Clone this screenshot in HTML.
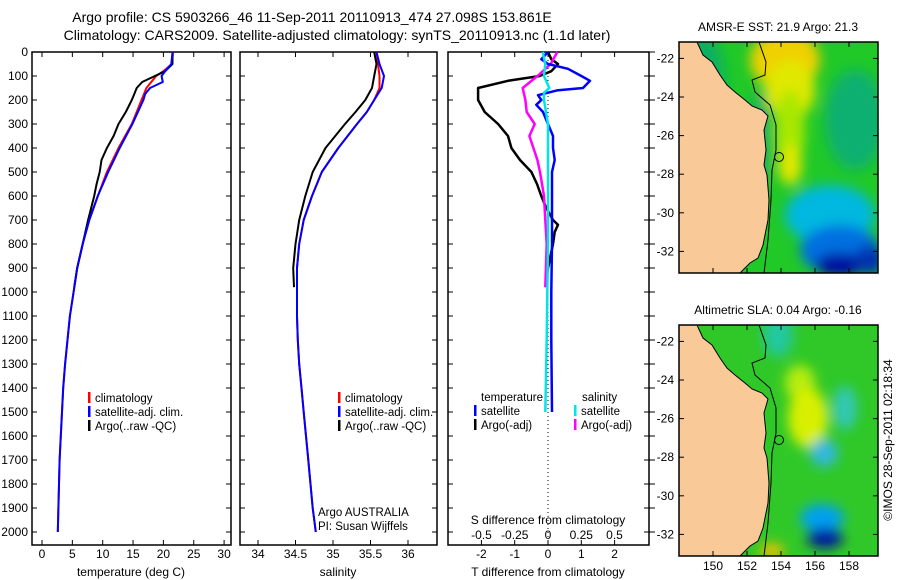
<!DOCTYPE html>
<html><head><meta charset="utf-8"><style>
html,body{margin:0;padding:0;background:#fff}
svg{display:block}
text{font-family:"Liberation Sans",Arial,sans-serif;font-size:12px;fill:#000}
.ttl{font-size:14px}
.leg{font-size:11.5px}
</style></head><body>
<svg id="fig" width="900" height="580" viewBox="0 0 900 580">
<text class="ttl" x="312" y="22" text-anchor="middle">Argo profile: CS 5903266_46 11-Sep-2011 20110913_474 27.098S 153.861E</text>
<text class="ttl" x="337" y="40" text-anchor="middle">Climatology: CARS2009. Satellite-adjusted climatology: synTS_20110913.nc (1.1d later)</text>
<g id="p1"></g>
<g id="p2"></g>
<g id="p3"></g>
<g id="maps"></g>
<text transform="translate(892,440) rotate(-90)" text-anchor="middle">©IMOS 28-Sep-2011 02:18:34</text>
</svg>
<script>
// ---- data ----
const depthTicks=[0,100,200,300,400,500,600,700,800,900,1000,1100,1200,1300,1400,1500,1600,1700,1800,1900,2000];
const tempTicks=[0,5,10,15,20,25,30];
const salTicks=[34,34.5,35,35.5,36];
const tdTicks=[-2,-1,0,1,2];
const sdTicks=[-0.5,-0.25,0,0.25,0.5];
const sdTickLabels=["-0.5","-0.25","0","0.25","0.5"];

const tDepth=[0,50,80,100,125,150,175,200,250,300,400,500,600,700,800,900,1000,1100,1200,1300,1400,1500,1600,1700,1800,1900,2000];
const tClim=[21.6,21.4,20.0,18.8,18.0,17.2,16.8,16.4,15.6,14.8,12.6,10.7,9.2,7.8,6.7,5.8,5.2,4.6,4.2,3.8,3.5,3.3,3.1,2.9,2.8,2.7,2.6];
const tSat=[21.5,21.3,20.3,19.7,19.9,17.8,17.0,16.7,15.8,14.9,12.8,10.9,9.2,7.8,6.7,5.8,5.2,4.6,4.2,3.8,3.5,3.3,3.1,2.9,2.8,2.7,2.6];
const argoDepth=[0,50,80,100,125,150,175,200,250,300,350,400,450,500,550,600,700,800,900,980];
const tArgo=[21.5,21.5,20.3,18.6,16.5,15.6,15.2,14.8,13.8,12.6,11.8,10.7,9.8,9.5,9.0,8.6,7.6,6.7,5.8,5.3];

const sDepth=[0,50,100,150,200,250,300,400,500,600,700,800,900,1000,1100,1200,1300,1400,1500,1600,1700,1800,1900,2000];
const sClim=[35.58,35.6,35.62,35.62,35.55,35.45,35.32,35.07,34.85,34.72,34.61,34.55,34.52,34.52,34.52,34.53,34.55,34.58,34.61,34.64,34.67,34.7,34.73,34.77];
const sSat=[35.58,35.62,35.68,35.65,35.55,35.45,35.32,35.07,34.85,34.72,34.61,34.55,34.52,34.52,34.52,34.53,34.55,34.58,34.61,34.64,34.67,34.7,34.73,34.77];
const sArgoDepth=[0,50,100,150,200,250,300,400,500,600,700,800,900,980];
const sArgo=[35.55,35.58,35.55,35.52,35.43,35.3,35.16,34.9,34.73,34.63,34.55,34.5,34.47,34.48];

const dtArgoDepth=[0,30,50,80,100,120,150,200,250,300,350,400,450,500,550,600,650,700,720,750,800,900,950,980];
const dtArgo=[0,0.1,0.3,0.1,-0.25,-1.2,-2.1,-2.1,-1.9,-1.5,-1.2,-1.1,-0.84,-0.5,-0.33,-0.2,-0.05,0.15,0.3,0.2,0.15,0,-0.05,-0.05];
const dtSatDepth=[0,30,50,70,100,120,150,160,180,200,220,250,300,350,400,450,500,600,700,800,1000,1200,1500];
const dtSat=[0,-0.2,0,0.6,1.0,1.26,1.05,0.27,-0.3,-0.2,-0.35,-0.15,0,0.15,0.15,0.2,0.12,0.12,0.12,0.12,0.1,0.1,0.12];
const dsArgoDepth=[0,50,100,150,200,250,300,350,400,450,500,600,700,800,980];
const dsArgo=[0.07,0.02,-0.08,-0.19,-0.17,-0.16,-0.1,-0.14,-0.11,-0.08,-0.06,-0.03,-0.02,-0.01,-0.02];
const dsSatDepth=[0,50,100,150,170,200,300,500,800,1000,1200,1500];
const dsSat=[-0.04,-0.02,-0.03,0.01,-0.03,-0.03,0,0,0,-0.005,-0.01,-0.02];

const latTicks=[-22,-24,-26,-28,-30,-32];
const lonTicks=[150,152,154,156,158];

// ---- helpers ----
const NS="http://www.w3.org/2000/svg";
function mk(tag,attrs,parent,txt){const e=document.createElementNS(NS,tag);for(const k in attrs)e.setAttribute(k,attrs[k]);if(txt!==undefined)e.textContent=txt;parent.appendChild(e);return e;}
const Y0=52,Y1=545;
const yD=d=>Y0+d*0.24;
const xT=t=>42+t*6.07;
const xS=s=>258+(s-34)*75;
const xDT=d=>548+d*33.3;
const xDS=s=>548+s*133;

function frame(g,x0,x1,name){
  const r=mk('rect',{x:x0,y:Y0,width:x1-x0,height:Y1-Y0,fill:'none',stroke:'#000','stroke-width':1.5},g);
  
  
  depthTicks.forEach(d=>{
    const t1=mk('line',{x1:x0,x2:x0+5,y1:yD(d),y2:yD(d),stroke:'#000'},g);
    
    
    const t2=mk('line',{x1:x1,x2:x1-5,y1:yD(d),y2:yD(d),stroke:'#000'},g);
    
    
  });
}
function xticks(g,vals,fx,labels,ly){
  vals.forEach((v,i)=>{
    const a=mk('line',{x1:fx(v),x2:fx(v),y1:Y1,y2:Y1-5,stroke:'#000'},g);
    
    
    const b=mk('line',{x1:fx(v),x2:fx(v),y1:Y0,y2:Y0+5,stroke:'#000'},g);
    
    
    if(labels){const t=mk('text',{x:fx(v),y:ly,'text-anchor':'middle'},g,labels[i]);
      
      }
  });
}
function line(g,depths,vals,fx,color,name,w){
  const pts=depths.map((d,i)=>fx(vals[i]).toFixed(1)+','+yD(d).toFixed(1)).join(' ');
  const p=mk('polyline',{points:pts,fill:'none',stroke:color,'stroke-width':w||2,'stroke-linejoin':'round'},g);
  
  
}
function legend(g,x,y,color,label){
  const r=mk('rect',{x:x,y:y-10,width:2.5,height:11,fill:color},g);
  
  
  const t=mk('text',{x:x+7,y:y,'class':'leg'},g,label);
  
  
}

// ---- panel 1 ----
const p1=document.getElementById('p1');
frame(p1,32,231,'temperature-panel');
depthTicks.forEach(d=>{const t=mk('text',{x:28,y:yD(d)+4,'text-anchor':'end'},p1,String(d));
  
  });
xticks(p1,tempTicks,xT,tempTicks.map(String),558);
line(p1,tDepth,tClim,xT,'#ff0000','temp-climatology-line');
line(p1,argoDepth,tArgo,xT,'#000000','temp-argo-line');
line(p1,tDepth,tSat,xT,'#0000ff','temp-satellite-line');
legend(p1,88,402,'#ff0000','climatology');
legend(p1,88,416,'#0000ff','satellite-adj. clim.');
legend(p1,88,430,'#000000','Argo(..raw -QC)');
let t=mk('text',{x:131,y:576,'text-anchor':'middle'},p1,'temperature (deg C)');



// ---- panel 2 ----
const p2=document.getElementById('p2');
frame(p2,240,437,'salinity-panel');
xticks(p2,salTicks,xS,salTicks.map(String),558);
line(p2,sDepth,sClim,xS,'#ff0000','sal-climatology-line');
line(p2,sArgoDepth,sArgo,xS,'#000000','sal-argo-line');
line(p2,sDepth,sSat,xS,'#0000ff','sal-satellite-line');
legend(p2,338,402,'#ff0000','climatology');
legend(p2,338,416,'#0000ff','satellite-adj. clim.');
legend(p2,338,430,'#000000','Argo(..raw -QC)');
t=mk('text',{x:318,y:516,'class':'leg'},p2,'Argo AUSTRALIA');


t=mk('text',{x:318,y:530,'class':'leg'},p2,'PI: Susan Wijffels');


t=mk('text',{x:338,y:576,'text-anchor':'middle'},p2,'salinity');



// ---- panel 3 ----
const p3=document.getElementById('p3');
frame(p3,448,649,'difference-panel');
depthTicks.forEach(d=>{const k=mk('line',{x1:649,x2:655,y1:yD(d),y2:yD(d),stroke:'#000'},p3);
  
  });
xticks(p3,tdTicks,xDT,tdTicks.map(String),558);
sdTicks.forEach((v,i)=>{const k=mk('text',{x:xDS(v),y:539,'text-anchor':'middle'},p3,sdTickLabels[i]);
  
  });
const zl=mk('line',{x1:xDT(0),x2:xDT(0),y1:yD(0),y2:Y1,stroke:'#000','stroke-dasharray':'1,3'},p3);


line(p3,dtArgoDepth,dtArgo,xDT,'#000000','tdiff-argo-line',2.5);
line(p3,dsArgoDepth,dsArgo,xDS,'#ff00ff','sdiff-argo-line',2.5);
line(p3,dtSatDepth,dtSat,xDT,'#0000ff','tdiff-satellite-line',2.5);
line(p3,dsSatDepth,dsSat,xDS,'#00e6e6','sdiff-satellite-line',2.5);
t=mk('text',{x:481,y:401,'class':'leg'},p3,'temperature');


t=mk('text',{x:582,y:401,'class':'leg'},p3,'salinity');


legend(p3,474,415,'#0000ff','satellite');
legend(p3,474,429,'#000000','Argo(-adj)');
legend(p3,574,415,'#00e6e6','satellite');
legend(p3,574,429,'#ff00ff','Argo(-adj)');
t=mk('text',{x:548,y:524,'text-anchor':'middle'},p3,'S difference from climatology');


t=mk('text',{x:548,y:576,'text-anchor':'middle'},p3,'T difference from climatology');



// ---- maps ----
const maps=document.getElementById('maps');
const defs=mk('defs',{},maps);
const f=mk('filter',{id:'blur',x:'-50%',y:'-50%',width:'200%',height:'200%'},defs);
mk('feGaussianBlur',{stdDeviation:6},f);
function coast(y0){
  const c=[[679,42],[697,42],[703,55],[712,62],[720,75],[727,85],[735,92],[745,100],[752,106],[762,110],[768,116],[764,130],[766,150],[764,165],[767,175],[769,200],[768,220],[763,245],[758,258],[750,263],[740,273],[679,273]];
  return c.map(p=>p[0]+','+(p[1]+y0)).join(' ');
}
function contour(y0){
  return `M759,${42+y0} L766,${62+y0} L765,${75+y0} L752,${80+y0} L755,${92+y0} L770,${105+y0} L776,${125+y0} L776,${150+y0} L772,${170+y0} L771,${200+y0} L768,${240+y0} L764,${273+y0}`;
}
function map(y0,title,blobs,base,name){
  const g=mk('g',{},maps);
  
  
  const cp=mk('clipPath',{id:'c'+y0},defs);
  mk('rect',{x:679,y:42+y0,width:199,height:231},cp);
  const inner=mk('g',{'clip-path':'url(#c'+y0+')'},g);
  mk('rect',{x:679,y:42+y0,width:199,height:231,fill:base},inner);
  const bg=mk('g',{filter:'url(#blur)'},inner);
  blobs.forEach(b=>mk('ellipse',{cx:b[0],cy:b[1]+y0,rx:b[2],ry:b[3],fill:b[4]},bg));
  const land=mk('polygon',{points:coast(y0),fill:'#f9c997',stroke:'#000','stroke-width':1},inner);
  
  
  mk('path',{d:contour(y0),fill:'none',stroke:'#000','stroke-width':1},inner);
  mk('circle',{cx:779,cy:157+y0,r:4.5,fill:'none',stroke:'#000'},inner);
  mk('rect',{x:679,y:42+y0,width:199,height:231,fill:'none',stroke:'#000','stroke-width':1.5},g);
  const tt=mk('text',{x:778,y:31+y0,'text-anchor':'middle'},g,title);
  
  
  latTicks.forEach(l=>{const yy=42+y0+(-21.15-l)*19.3;
    mk('line',{x1:679,x2:684,y1:yy,y2:yy,stroke:'#000'},g);
    mk('line',{x1:878,x2:873,y1:yy,y2:yy,stroke:'#000'},g);
    const k=mk('text',{x:674,y:yy+4,'text-anchor':'end'},g,String(l));
    
    });
  lonTicks.forEach(l=>{const xx=713+(l-150)*17;
    mk('line',{x1:xx,x2:xx,y1:273+y0,y2:268+y0,stroke:'#000'},g);
    mk('line',{x1:xx,x2:xx,y1:42+y0,y2:47+y0,stroke:'#000'},g);
    if(y0>0){const k=mk('text',{x:xx,y:570,'text-anchor':'middle'},g,String(l));
      
      }});
}
map(0,'AMSR-E SST: 21.9 Argo: 21.3',[
  [785,60,35,30,'#f0d000'],[790,90,25,30,'#e0e800'],[790,130,15,40,'#a8e800'],[790,165,12,20,'#e0e800'],
  [700,80,25,50,'#10b060'],[760,140,10,50,'#10b060'],
  [855,120,30,50,'#10b070'],
  [830,215,45,30,'#00b8e0'],[840,250,40,25,'#0070e0'],[840,265,25,12,'#0010a0'],[870,260,15,15,'#0030b0']
],'#20c828','sst-map');
map(283,'Altimetric SLA: 0.04 Argo: -0.16',[
  [778,52,15,22,'#20c8a0'],[800,100,15,18,'#b8ec10'],[808,135,20,30,'#d8f000'],
  [845,125,12,22,'#30c8b8'],[824,170,14,14,'#30b8e0'],
  [822,235,22,14,'#00a0f0'],[825,255,18,10,'#0010a0'],[772,268,12,8,'#f0c000']
],'#30c828','sla-map');
</script>
</body></html>
